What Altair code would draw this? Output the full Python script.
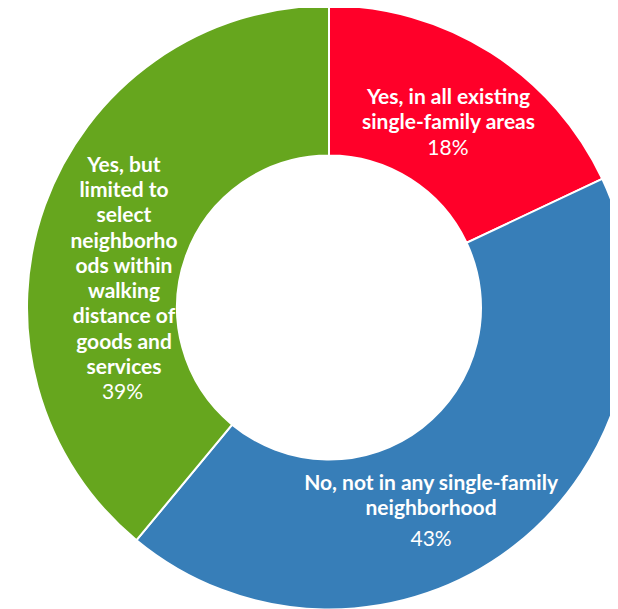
import altair as alt
import pandas as pd

categories = ["Yes, in all existing single-family areas",
              "No, not in any single-family neighborhood",
              "Yes, but limited to select neighborhoods within walking distance of goods and services"]
values = [18, 43, 39]
colors = ["#FF0029", "#377EB8", "#66A61E"]
labels = ["Yes, in all existing\nsingle-family areas",
          "No, not in any single-family\nneighborhood",
          "Yes, but\nlimited to\nselect\nneighborho\nods within\nwalking\ndistance of\ngoods and\nservices"]
pct_labels = ["18%", "43%", "39%"]

df = pd.DataFrame({
    "category": categories,
    "value": values,
    "order": list(range(len(categories))),
    "label": labels,
    "pct": pct_labels,
})

CX, CY = 321, 299.5
R_OUT, R_IN, R_LAB = 302, 152, 220
FONT = "Lato"
FS = 21
LH = 25.3

theta_scale = alt.Scale(domain=[0, 100])

base = alt.Chart(df)

arc = base.mark_arc(radius=R_OUT, radius2=R_IN, stroke="white", strokeWidth=2).encode(
    theta=alt.Theta("value:Q", stack=True, scale=theta_scale),
    order=alt.Order("order:Q"),
    color=alt.Color("category:N", scale=alt.Scale(domain=categories, range=colors), legend=None),
    x=alt.value(CX), y=alt.value(CY),
)

# per-label offsets from the slice mid-angle point (bold label dx, dy, pct dx, dy)
offsets = {
    categories[0]: (1.6, -17.8, 1.0, 33.2),
    categories[1]: (-32.8, 8.7, -32.8, 64.4),
    categories[2]: (2.0, -61.3, 0.5, 166.0),
}

layers = [arc]
for cat in categories:
    bdx, bdy, pdx, pdy = offsets[cat]
    tb = base.transform_stack(
        stack="value", groupby=[], as_=["v0", "v1"], sort=[alt.SortField("order")]
    ).transform_calculate(mid="(datum.v0 + datum.v1) / 2").transform_filter(
        alt.datum.category == cat
    )
    enc = dict(
        theta=alt.Theta("mid:Q", stack=None, scale=theta_scale),
        radius=alt.value(R_LAB),
        x=alt.value(CX), y=alt.value(CY),
    )
    layers.append(tb.mark_text(font=FONT, fontSize=FS, fontWeight="bold", color="white",
                               align="center", baseline="alphabetic", lineBreak="\n",
                               lineHeight=LH, dx=bdx, dy=bdy).encode(text="label:N", **enc))
    layers.append(tb.mark_text(font=FONT, fontSize=FS, fontWeight="normal", color="white",
                               align="center", baseline="alphabetic",
                               dx=pdx, dy=pdy).encode(text="pct:N", **enc))

chart = alt.layer(*layers).properties(
    width=602, height=601,
    autosize=alt.AutoSizeParams(type="none"),
    padding=0,
).configure_view(stroke=None)

chart.save("out.html", embed_options={"renderer": "svg", "actions": False})
